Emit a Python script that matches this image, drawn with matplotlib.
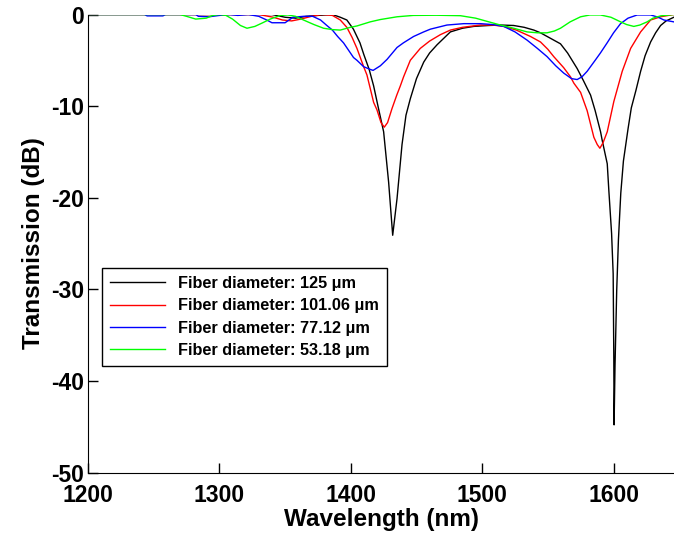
import matplotlib
matplotlib.use("Agg")
import matplotlib.pyplot as plt

plt.rcParams["font.family"] = ["Liberation Sans", "DejaVu Sans"]
plt.rcParams["font.weight"] = "bold"
plt.rcParams["axes.unicode_minus"] = False

# Fiber diameter: 125 um
wl_125 = [1200, 1340, 1350, 1358, 1366, 1375, 1386, 1392, 1397, 1402, 1407, 1410,
          1414, 1417.4, 1421, 1425, 1428.8, 1431.9, 1435.2, 1439, 1442, 1445.3, 1450,
          1455.5, 1460, 1465.7, 1475.8, 1485, 1493.6, 1505, 1514, 1524, 1532, 1539.3,
          1544.4, 1552, 1559.6, 1565, 1572.3, 1577, 1582.5, 1586, 1590.1, 1591.3,
          1595.2, 1596.4, 1598.5, 1599.7, 1600.2, 1600.4, 1601.1, 1602.4, 1603.7,
          1605.5, 1607.5, 1611, 1613.5, 1617, 1620.6, 1624, 1628.2, 1632, 1635.8,
          1640, 1645.9]
tr_125 = [0, 0, -0.3, -0.4, -0.2, -0.1, 0, -0.3, -0.6, -1.6, -3.1, -4.4,
          -6.0, -7.8, -10.2, -12.8, -18.3, -24.1, -20.1, -14.2, -11.0, -9.2, -7.0,
          -5.2, -4.2, -3.3, -1.9, -1.5, -1.3, -1.2, -1.15, -1.2, -1.4, -1.7,
          -2.0, -2.6, -3.2, -4.2, -5.9, -7.2, -8.8, -10.5, -12.8, -13.7,
          -16.3, -19.2, -23.9, -28.3, -37.7, -44.8, -38.4, -30.1, -24.6,
          -19.5, -16.0, -12.5, -10.2, -8.3, -6.2, -4.5, -3.0, -2.0, -1.2,
          -0.7, -0.3]

# Fiber diameter: 101.06 um
wl_101 = [1200, 1330, 1341, 1348, 1355, 1362, 1370, 1378, 1386, 1392, 1397, 1401,
          1404.7, 1409.8, 1412.3, 1417.4, 1419.9, 1423, 1425.5, 1428, 1431.3, 1435,
          1437.7, 1440.2, 1445.3, 1452.9, 1460, 1468.2, 1475.8, 1485, 1498.7, 1508,
          1516.4, 1526, 1536.8, 1544.4, 1550, 1554.5, 1557, 1562, 1567.2, 1569.8,
          1574.9, 1579.9, 1585, 1587.6, 1589.6, 1592, 1595.2, 1600.2, 1606.6, 1613,
          1620.6, 1628.2, 1635.8, 1645.7]
tr_101 = [0, 0, -0.3, -0.6, -0.7, -0.5, -0.2, 0, -0.1, -0.6, -1.4, -2.5,
          -3.7, -5.7, -6.6, -9.6, -10.4, -11.8, -12.3, -11.8, -10.3, -8.8,
          -7.8, -6.8, -5.0, -3.7, -2.9, -2.2, -1.7, -1.4, -1.15, -1.15,
          -1.3, -1.7, -2.4, -3.0, -3.8, -4.6, -5.0, -5.8, -6.8, -7.5,
          -8.5, -10.5, -13.4, -14.2, -14.6, -14.0, -12.8, -9.5, -6.2, -3.7,
          -1.9, -0.6, -0.25, 0]

# Fiber diameter: 77.12 um
wl_77 = [1200, 1243, 1245, 1257, 1259, 1282, 1284, 1292, 1300, 1308, 1314, 1322,
         1330, 1336, 1340, 1350, 1356, 1364, 1371, 1377, 1381.8, 1386, 1390, 1394.5,
         1402.1, 1404.7, 1409.8, 1414.9, 1417, 1422.5, 1427.6, 1435.2, 1440, 1447.8,
         1455.5, 1460.6, 1473.2, 1486, 1498.7, 1508, 1516.4, 1525, 1534.2, 1542,
         1549.4, 1556, 1562.1, 1568, 1572.3, 1576, 1579.9, 1586, 1590, 1595.1, 1600,
         1605.3, 1611, 1618, 1628.2, 1634, 1638.3, 1645.7]
tr_77 = [0, 0, -0.15, -0.15, 0, 0, -0.2, -0.25, -0.1, 0, -0.1, 0,
         -0.2, -0.6, -0.9, -0.9, -0.3, -0.2, -0.2, -0.6, -1.2, -1.7, -2.4, -3.1,
         -4.7, -5.0, -5.7, -6.0, -6.1, -5.6, -4.9, -3.6, -3.1, -2.4,
         -1.9, -1.6, -1.15, -1.0, -1.0, -1.1, -1.3, -1.9, -2.8, -3.7,
         -4.6, -5.6, -6.4, -7.0, -7.1, -6.8, -6.2, -5.0, -4.2, -3.1, -2.0,
         -1.0, -0.4, -0.05, -0.05, -0.3, -0.6, -0.8]

# Fiber diameter: 53.18 um
wl_53 = [1200, 1270, 1275, 1282, 1290, 1295, 1300, 1305, 1310, 1316, 1321, 1327,
         1333, 1338.7, 1346.3, 1352, 1358, 1364, 1372, 1379.3, 1386, 1392, 1399.6,
         1404.7, 1414.9, 1422.5, 1435.2, 1447.6, 1465, 1483.4, 1495, 1505, 1513.9,
         1524, 1534.2, 1542, 1549.4, 1555, 1559.6, 1567, 1574.9, 1582, 1590, 1598,
         1605.3, 1610, 1615.4, 1620, 1625.6, 1630, 1635.8, 1645.7]
tr_53 = [0, 0, -0.2, -0.5, -0.4, -0.1, 0, -0.1, -0.5, -1.2, -1.5, -1.3,
         -0.9, -0.5, -0.1, -0.05, -0.2, -0.6, -1.1, -1.5, -1.65, -1.7, -1.4,
         -1.25, -0.8, -0.55, -0.25, -0.1, -0.08, -0.13, -0.4, -0.8, -1.15,
         -1.5, -1.9, -2.0, -2.0, -1.8, -1.5, -0.8, -0.25, -0.05, -0.05, -0.3,
         -0.8, -1.1, -1.3, -1.15, -0.8, -0.4, -0.15, 0]

labels = ["Fiber diameter: 125 \u03bcm", "Fiber diameter: 101.06 \u03bcm",
          "Fiber diameter: 77.12 \u03bcm", "Fiber diameter: 53.18 \u03bcm"]
colors = ["black", "red", "blue", "#00ff00"]

fig = plt.figure(figsize=(6.74, 5.37), dpi=100)
ax = fig.add_axes([88 / 674, 64.5 / 537, 586 / 674, 458 / 537])

series = [(wl_125, tr_125), (wl_101, tr_101), (wl_77, tr_77), (wl_53, tr_53)]
for (x, y), lab, c in zip(series, labels, colors):
    ax.plot(x, y, color=c, lw=1.0, label=lab)

ax.set_xlim(1200, 1646)
ax.set_ylim(-50, 0)
ax.set_xticks([1200, 1300, 1400, 1500, 1600])
ax.set_yticks([0, -10, -20, -30, -40, -50])
ax.spines["top"].set_visible(False)
ax.spines["right"].set_visible(False)
ax.tick_params(direction="in", length=7, width=1, labelsize=16.5)
ax.tick_params(axis="x", pad=8)
ax.tick_params(axis="y", pad=3)
for lbl in ax.get_xticklabels() + ax.get_yticklabels():
    lbl.set_fontweight("bold")

ax.set_xlabel("Wavelength (nm)", fontsize=17.5, fontweight="bold", labelpad=1)
ax.set_ylabel("Transmission (dB)", fontsize=17.5, fontweight="bold", labelpad=4)

leg = ax.legend(loc="upper left", bbox_to_anchor=(0.024, 0.4465), borderaxespad=0,
                fancybox=False, framealpha=1, edgecolor="black",
                prop={"size": 11.7, "weight": "bold"}, handlelength=3.4,
                labelspacing=0.45, borderpad=0.5)
leg.get_frame().set_linewidth(1.0)

fig.savefig("out.png", dpi=100)
